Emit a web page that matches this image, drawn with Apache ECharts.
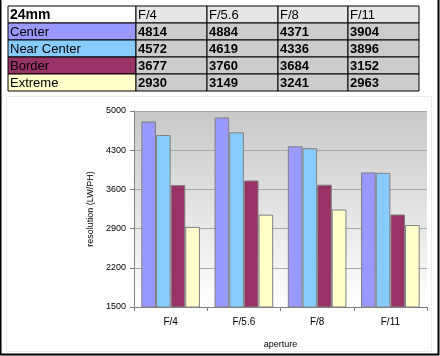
<!DOCTYPE html>
<html><head><meta charset="utf-8">
<style>html,body{margin:0;padding:0;background:#fff}#c{width:440px;height:356px}</style>
<script src="https://cdn.jsdelivr.net/npm/echarts@6/dist/echarts.min.js"></script>
</head><body><div id="c"></div>
<script>
var title = '24mm';
var categories = ['F/4', 'F/5.6', 'F/8', 'F/11'];
var seriesNames = ['Center', 'Near Center', 'Border', 'Extreme'];
var center = [4814, 4884, 4371, 3904];
var nearCenter = [4572, 4619, 4336, 3896];
var border = [3677, 3760, 3684, 3152];
var extreme = [2930, 3149, 3241, 2963];
var yTicks = [1500, 2200, 2900, 3600, 4300, 5000];
var colors = ['#9999ff', '#88ccff', '#993366', '#ffffcc'];
var values = [center, nearCenter, border, extreme];

var chart = echarts.init(document.getElementById('c'), null, {renderer: 'canvas'});

// table graphic
var colX = [8, 136, 207, 278, 348, 419];
var rowY = [6, 23, 40, 57, 74, 91];
var g = [];
function cell(x0, x1, y0, y1, fill, txt, bold, size) {
  g.push({type: 'rect', shape: {x: x0, y: y0, width: x1 - x0, height: y1 - y0},
    style: {fill: fill, stroke: '#000', lineWidth: 1}, z: 1});
  g.push({type: 'text', x: x0 + 2, y: (y0 + y1) / 2 + 0.5,
    style: {text: txt, fill: '#000', font: (bold ? 'bold ' : '') + size + 'px Arial, "Liberation Sans"', textVerticalAlign: 'middle', textAlign: 'left'}, z: 2});
}
cell(colX[0], colX[1], rowY[0], rowY[1], '#ffffff', title, true, 14);
for (var j = 0; j < categories.length; j++) cell(colX[j + 1], colX[j + 2], rowY[0], rowY[1], '#e6e6e6', categories[j], false, 13);
for (var i = 0; i < seriesNames.length; i++) {
  cell(colX[0], colX[1], rowY[i + 1], rowY[i + 2], colors[i], seriesNames[i], false, 13);
  for (var j = 0; j < categories.length; j++) cell(colX[j + 1], colX[j + 2], rowY[i + 1], rowY[i + 2], '#cccccc', String(values[i][j]), true, 13);
}
// outer frame (left, bottom, right)
g.push({type: 'polyline', shape: {points: [[0.5, 0], [0.5, 354.5], [438.5, 354.5], [438.5, 0]]}, style: {fill: null, stroke: '#000', lineWidth: 2}, z: 5});
// faint chart-area border
g.push({type: 'rect', shape: {x: 6.5, y: 96.5, width: 425, height: 255}, style: {fill: null, stroke: '#ececec', lineWidth: 1}, z: 0});

var series = seriesNames.map(function (n, i) {
  return {name: n, type: 'bar', data: values[i], barGap: '0%', barCategoryGap: '20%',
    itemStyle: {color: colors[i], borderColor: '#808080', borderWidth: 1}};
});

chart.setOption({
  animation: false,
  textStyle: {fontFamily: 'Arial, "Liberation Sans"'},
  grid: {left: 134, right: 13, top: 111, bottom: 49, show: true, borderWidth: 0,
    backgroundColor: new echarts.graphic.LinearGradient(0, 0, 0, 1, [{offset: 0, color: '#c8c8c8'}, {offset: 1, color: '#ffffff'}])},
  xAxis: {type: 'category', data: categories, name: 'aperture', nameLocation: 'middle', nameGap: 33,
    nameTextStyle: {fontSize: 9, color: '#000'},
    axisLine: {lineStyle: {color: '#808080'}},
    axisTick: {show: true, length: 4, lineStyle: {color: '#808080'}},
    axisLabel: {fontSize: 10, color: '#000', margin: 10}},
  yAxis: {type: 'value', min: yTicks[0], max: yTicks[yTicks.length - 1], interval: yTicks[1] - yTicks[0],
    name: 'resolution (LW/PH)', nameLocation: 'middle', nameGap: 37, nameRotate: 90,
    nameTextStyle: {fontSize: 9, color: '#000'},
    axisLine: {show: true, lineStyle: {color: '#808080'}},
    axisTick: {show: true, length: 4, lineStyle: {color: '#808080'}},
    axisLabel: {fontSize: 9, color: '#000', margin: 8, formatter: function (v) { return String(v); }},
    splitLine: {lineStyle: {color: '#a8a8a8'}}},
  series: series,
  graphic: g
});
</script></body></html>
